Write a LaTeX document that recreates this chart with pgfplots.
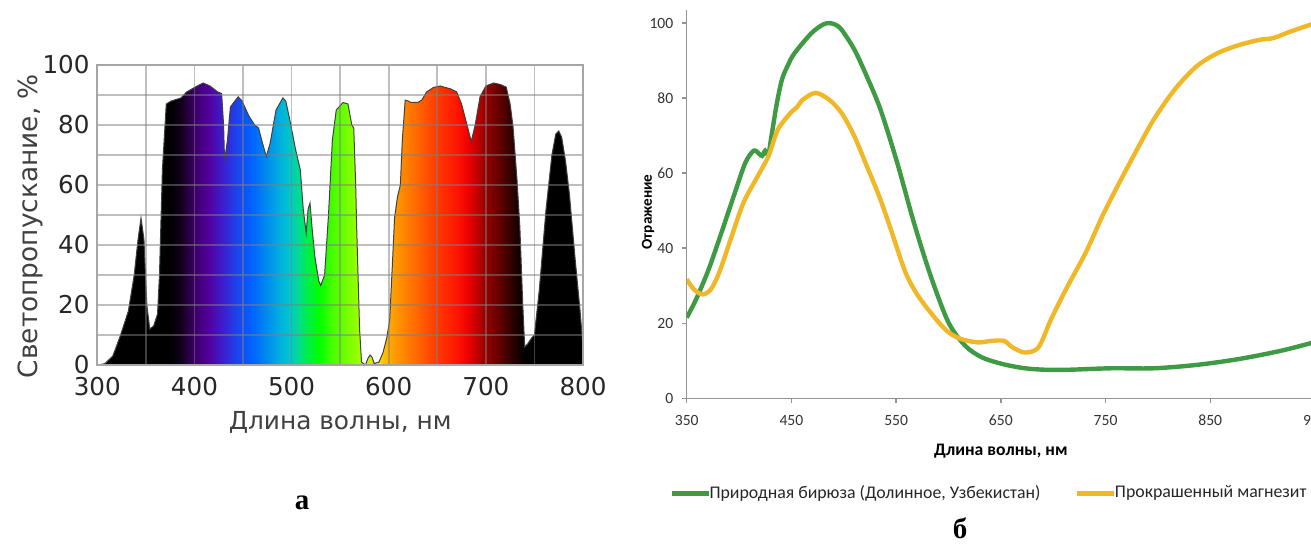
\documentclass[border=0pt]{standalone}
\usepackage{fontspec}
\usepackage{pgfplots}
\usepackage{pgfplotstable}
\pgfplotsset{compat=1.18}
\setmainfont{DejaVu Sans}
\newfontfamily\dejavu{DejaVu Sans}
\newfontfamily\carlito{Carlito}
\newfontfamily\libserif{Liberation Serif}

\definecolor{cgreen}{RGB}{62,155,68}
\definecolor{cyellow}{RGB}{240,184,40}

\definecolor{sp385}{HTML}{100018}
\definecolor{sp400}{HTML}{3A0068}
\definecolor{sp415}{HTML}{5200A0}
\definecolor{sp430}{HTML}{3A20D0}
\definecolor{sp445}{HTML}{1848F0}
\definecolor{sp458}{HTML}{0060FF}
\definecolor{sp472}{HTML}{0085F0}
\definecolor{sp487}{HTML}{00AEE0}
\definecolor{sp497}{HTML}{00C4CC}
\definecolor{sp507}{HTML}{00DC90}
\definecolor{sp517}{HTML}{00F040}
\definecolor{sp528}{HTML}{00FF00}
\definecolor{sp542}{HTML}{48FF00}
\definecolor{sp558}{HTML}{78FF00}
\definecolor{sp572}{HTML}{A8FF00}
\definecolor{sp590}{HTML}{FFD800}
\definecolor{sp600}{HTML}{FFAA00}
\definecolor{sp612}{HTML}{FF8C00}
\definecolor{sp628}{HTML}{FF6A00}
\definecolor{sp648}{HTML}{FF3C00}
\definecolor{sp668}{HTML}{FF1800}
\definecolor{sp682}{HTML}{EE0000}
\definecolor{sp697}{HTML}{A00000}
\definecolor{sp712}{HTML}{680000}
\definecolor{sp726}{HTML}{300000}

\pgfdeclarehorizontalshading{spectrum}{100bp}{%
color(0bp)=(black); color(25bp)=(black); color(32.5bp)=(black);
color(33.5bp)=(sp385); color(35bp)=(sp400); color(36.5bp)=(sp415);
color(38bp)=(sp430); color(39.5bp)=(sp445); color(40.8bp)=(sp458);
color(42.2bp)=(sp472); color(43.7bp)=(sp487); color(44.7bp)=(sp497);
color(45.7bp)=(sp507); color(46.7bp)=(sp517); color(47.8bp)=(sp528);
color(49.2bp)=(sp542); color(50.8bp)=(sp558); color(52.2bp)=(sp572);
color(54bp)=(sp590); color(55bp)=(sp600); color(56.2bp)=(sp612);
color(57.8bp)=(sp628); color(59.8bp)=(sp648); color(61.8bp)=(sp668);
color(63.2bp)=(sp682); color(64.7bp)=(sp697); color(66.2bp)=(sp712);
color(67.6bp)=(sp726); color(69bp)=(black); color(75bp)=(black); color(100bp)=(black)}

\pgfplotstableread{
x y
300 0
302 0
308 0.5
316 3
324 10
332 18
338 30
342 42
345 49
348 42
351 20
354 12
358 13
362 17
364 30
367 65
371 87
376 88
386 89
392 91
400 92.5
409 94
416 93
424 91
428 90.5
430 80
431 68
434 75
437 86
445 89.4
449 88
456 83
462 80
466 79
470 74
474 69.5
478 74
484 85
491 89
494 88
498 82
504 72
509 65
512 52
515 44
517 52
519 54
521 46
524 36
528 28
530 26.5
534 30
538 50
542 75
546 85
553 87.5
558 87
562 80
564 79
566 60
567 46
570 12
572 1
576 0
579 2.5
581 3.3
583 2.5
585 0.5
590 1
594 4
598 9
601 15
604 35
606 49
609 56
612 60
614 75
617 88.3
620 88
623 87.5
630 87.5
634 88.3
639 91
646 92.5
653 93
664 92
670 91
675 87
679 82
685 74.5
689 80
694 89.4
700 93
708 94
715 93.5
721 92.6
725 87
728 79.4
732 62
735 46
738 20
740 6
743 7
747 9
750 10
755 25
762 52
768 70
772 77
775 78
778 76
782 68
786 57
792 35
797 18
800 6
}\spectab

\pgfplotstableread{
x y
350 21.5
359 26.4
371 34.4
383 44
396 54.8
406 62.8
414 66
419 65.2
422 64.6
425 66
428 65
431 70
436 78.5
441 85
447 89
453 92
469 97.3
480 99.6
486 100
492 99.6
498 98.2
510 93
522 85.8
535 77
551 62.8
567 46.8
583 32.6
600 20.2
616 14
632 10.9
652 9.1
673 8
693 7.6
714 7.6
755 8
796 8
837 8.9
878 10.5
918 12.7
950 15
}\greentab

\pgfplotstableread{
x y
350 31.7
357 29
365 27.7
373 29
381 33.5
392 42.4
404 52
416 58.3
428 64.5
437 71.6
449 76
455 77.5
461 79.6
473 81.4
486 79.6
498 76
510 69.9
522 61.9
535 53
547 43.3
559 33.5
571 27.3
588 21.1
600 17.6
612 15.8
628 14.9
641 15.3
653 15.3
661 13.6
673 12.2
686 13.6
698 21.1
714 30
731 38.8
747 48.6
763 57.4
780 66.3
796 74.3
816 82.3
837 88.5
857 92
878 94.2
898 95.6
910 96
927 97.8
950 100
}\yellowtab

\begin{document}
\begin{tikzpicture}
\useasboundingbox (0,0) rectangle (655.5pt,273pt);

% ---------- left panel ----------
\begin{axis}[
  at={(48.65pt,90.5pt)}, anchor=south west,
  scale only axis, width=242.85pt, height=150pt,
  xmin=300, xmax=800, ymin=0, ymax=100,
  xtick={300,400,...,800}, minor xtick={350,450,...,750},
  ytick={0,20,...,100}, minor ytick={10,30,...,90},
  grid=both,
  major grid style={draw=gray, opacity=0.5, line width=0.9pt},
  minor grid style={draw=gray, opacity=0.5, line width=0.9pt},
  axis line style={draw=gray!70, line width=0.9pt},
  major tick length=0pt, minor tick length=0pt,
  axis on top,
  ticklabel style={font=\dejavu\fontsize{12.3}{14}\selectfont, text=black!85},
  /pgf/number format/assume math mode=true,
  xticklabel style={anchor=center, yshift=-11pt},
  yticklabel style={anchor=east, inner sep=0pt, xshift=-3.7pt},
  xlabel={Длина волны, нм},
  ylabel={Светопропускание, \%},
  xlabel style={at={(axis description cs:0.5,-0.19)}, anchor=center, font=\dejavu\fontsize{12.4}{14}\selectfont, text=black!75},
  ylabel style={at={(axis description cs:-0.138,0.463)}, anchor=center, font=\dejavu\fontsize{13.2}{15}\selectfont, text=black!75},
]
\addplot[shading=spectrum, draw=none] table[x=x, y=y] {\spectab} \closedcycle;
\addplot[draw=black!75, line width=0.5pt] table[x=x, y=y] {\spectab};
\end{axis}

% ---------- right panel ----------
\begin{axis}[
  at={(343.35pt,73.85pt)}, anchor=south west,
  scale only axis, width=314.15pt, height=194.15pt,
  xmin=350, xmax=950, ymin=0, ymax=103.5,
  axis x line*=bottom, axis y line*=left,
  xtick={350,450,...,950}, ytick={0,20,...,100},
  tick align=outside, major tick length=2.5pt,
  tick style={draw=gray!85, line width=0.75pt},
  axis line style={draw=gray!85, line width=0.75pt},
  ticklabel style={font=\carlito\fontsize{7.8}{9}\selectfont, text=black!80},
  /pgf/number format/assume math mode=true,
  xticklabel style={anchor=center, yshift=-8.7pt},
  yticklabel style={anchor=east, inner sep=0pt, xshift=-4pt},
  xlabel={Длина волны, нм},
  ylabel={Отражение},
  xlabel style={at={(axis description cs:0.5,-0.1357)}, anchor=center, font=\carlito\bfseries\fontsize{8.8}{10}\selectfont},
  ylabel style={at={(axis description cs:-0.0616,0.48)}, anchor=center, font=\carlito\bfseries\fontsize{7.6}{9}\selectfont},
  legend columns=2,
  legend style={draw=none, fill=none, at={(0.48,-0.245)}, anchor=center,
    font=\carlito\fontsize{8.9}{10}\selectfont, text=black!85,
    nodes={inner sep=0.3pt},
    /tikz/every odd column/.append style={column sep=-1pt},
    /tikz/every even column/.append style={column sep=17pt}},
  legend image code/.code={\draw[#1] (0pt,0pt) -- (18.5pt,0pt);},
]
\addplot[cgreen, line width=2.2pt, smooth, tension=0.5] table[x=x, y=y] {\greentab};
\addlegendentry{Природная бирюза (Долинное, Узбекистан)}
\addplot[cyellow, line width=2.2pt, smooth, tension=0.5] table[x=x, y=y] {\yellowtab};
\addlegendentry{Прокрашенный магнезит}
\end{axis}

\node[font=\libserif\bfseries\fontsize{14.5}{16}\selectfont, anchor=base] at (151pt,18.5pt) {а};
\node[font=\libserif\bfseries\fontsize{14.5}{16}\selectfont, anchor=base] at (480pt,4pt) {б};
\end{tikzpicture}
\end{document}
